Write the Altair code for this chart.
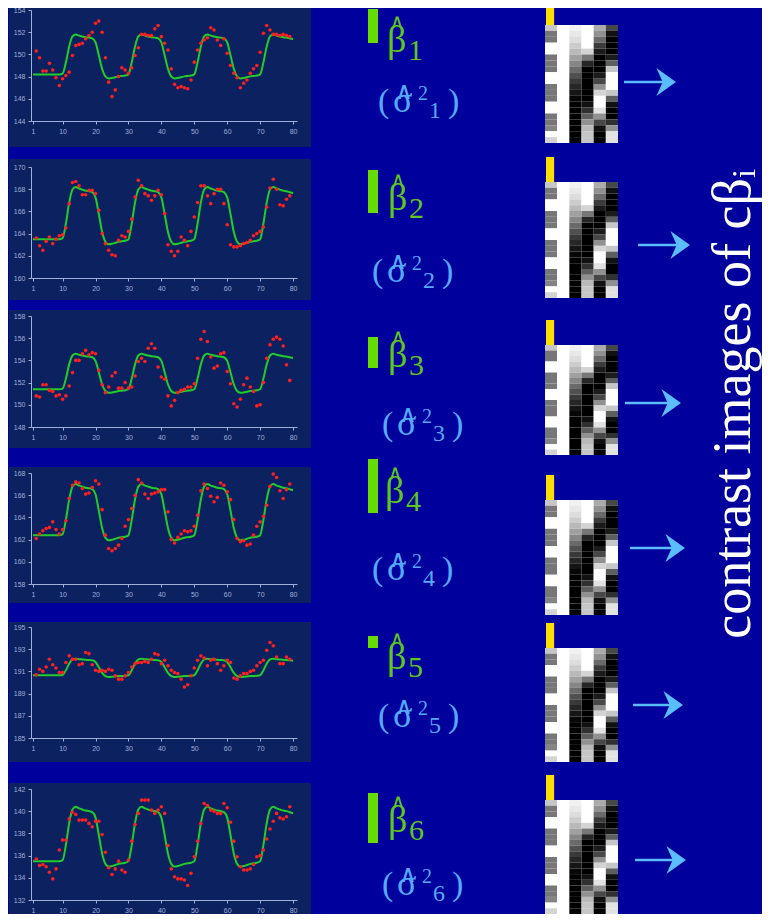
import altair as alt
import pandas as pd

# ---------------- data ----------------
SCANS = list(range(1, 81))
REGRESSOR = [0.0, 0.0, 0.0, 0.0, 0.0, 0.0, 0.0, 0.0, 0.0, 0.02,
             0.3, 0.7, 0.95, 1.0, 0.97, 0.95, 0.93, 0.92, 0.9, 0.8,
             0.48, 0.14, -0.05, -0.1, -0.09, -0.07, -0.05, -0.04, -0.03, 0.0,
             0.3, 0.7, 0.95, 1.0, 0.97, 0.95, 0.93, 0.92, 0.9, 0.8,
             0.48, 0.14, -0.05, -0.1, -0.09, -0.07, -0.05, -0.04, -0.03, 0.0,
             0.3, 0.7, 0.95, 1.0, 0.97, 0.95, 0.93, 0.92, 0.9, 0.8,
             0.48, 0.14, -0.05, -0.1, -0.09, -0.07, -0.05, -0.04, -0.03, 0.0,
             0.3, 0.7, 0.95, 1.0, 0.97, 0.95, 0.93, 0.92, 0.9, 0.88]

PANEL_BASE = [148.2, 163.5, 151.4, 162.4, 190.65, 135.5]
PANEL_AMP = [3.6, 4.7, 3.2, 4.6, 1.5, 4.9]
Y_DOMAINS = [(144, 154), (160, 170), (148, 158), (158, 168), (185, 195), (132, 142)]
X_TICKS = [1, 10, 20, 30, 40, 50, 60, 70, 80]

OBS_1 = [150.3, 149.7, 148.5, 148.5, 149.2, 148.6, 147.9, 147.2, 147.8, 148.1,
         148.4, 149.9, 150.8, 150.9, 151.0, 151.4, 151.7, 152.0, 152.8, 153.0,
         152.0, 149.7, 147.5, 146.2, 146.8, 148.0, 148.8, 148.6, 148.3, 148.8,
         149.9, 150.6, 151.8, 151.8, 151.7, 151.7, 152.3, 152.6, 151.6, 151.0,
         150.4, 148.7, 147.3, 147.0, 147.1, 147.0, 146.9, 147.7, 149.3, 150.4,
         151.0, 151.3, 151.5, 152.4, 152.2, 151.3, 150.8, 151.4, 150.1, 149.0,
         148.3, 147.9, 147.0, 147.4, 147.7, 148.3, 148.7, 149.0, 150.2, 151.9,
         152.6, 152.2, 151.8, 151.8, 151.7, 151.8, 151.7, 151.6]
OBS_2 = [163.6, 162.9, 162.5, 163.3, 163.7, 163.1, 163.5, 163.8, 163.9, 164.5,
         166.7, 168.6, 168.7, 168.3, 167.5, 167.5, 167.9, 167.9, 167.6, 166.1,
         164.0, 163.1, 162.5, 162.1, 162.0, 163.4, 163.8, 163.7, 164.2, 165.3,
         167.3, 168.8, 168.3, 167.6, 167.4, 167.0, 167.4, 167.9, 167.5, 165.8,
         163.0, 162.4, 162.0, 162.4, 163.7, 163.4, 162.9, 164.2, 165.5, 166.8,
         168.3, 168.3, 167.4, 166.7, 167.6, 168.0, 168.0, 166.7, 164.8, 163.0,
         162.8, 162.8, 162.9, 163.1, 163.2, 163.4, 163.8, 164.0, 164.2, 164.6,
         166.4, 168.1, 168.9, 168.0, 166.6, 166.5, 167.1, 167.4]
OBS_3 = [150.8, 150.7, 151.8, 151.8, 151.3, 151.2, 150.8, 150.9, 150.5, 150.8,
         151.7, 152.9, 154.0, 154.0, 154.6, 154.9, 154.5, 154.7, 154.6, 153.1,
         151.8, 151.1, 151.6, 152.6, 152.9, 151.5, 151.5, 152.0, 151.5, 151.6,
         152.6, 153.9, 154.2, 153.9, 155.1, 155.5, 155.1, 153.4, 152.5, 152.3,
         150.8, 149.9, 150.4, 151.1, 151.3, 151.4, 151.6, 151.6, 151.9, 154.2,
         155.9, 156.6, 155.7, 154.3, 153.3, 153.5, 154.6, 154.7, 153.0, 151.9,
         150.1, 149.8, 150.5, 151.8, 152.4, 151.6, 151.2, 149.9, 150.0, 152.0,
         154.2, 155.4, 155.9, 156.1, 155.9, 155.3, 153.6, 152.2]
OBS_4 = [162.1, 162.5, 162.8, 163.0, 163.1, 163.6, 162.9, 162.5, 162.9, 163.7,
         165.7, 166.9, 167.2, 167.1, 166.6, 166.1, 166.2, 166.7, 167.3, 167.0,
         164.7, 162.4, 161.2, 161.0, 161.2, 161.5, 162.1, 163.2, 163.8, 164.8,
         166.0, 167.4, 167.1, 166.1, 165.7, 166.1, 166.2, 166.3, 166.5, 166.5,
         164.5, 162.0, 161.7, 162.2, 162.5, 162.8, 162.7, 162.8, 163.2, 164.2,
         166.4, 167.0, 166.6, 165.9, 165.4, 165.8, 167.1, 166.9, 166.3, 165.6,
         163.8, 162.1, 161.8, 161.9, 161.5, 161.6, 162.4, 163.2, 163.6, 164.1,
         165.1, 166.8, 167.9, 167.6, 166.4, 165.7, 166.5, 167.0]
OBS_5 = [190.7, 191.2, 191.0, 191.4, 192.1, 191.6, 191.3, 190.9, 190.9, 191.8,
         192.4, 192.1, 192.1, 191.6, 191.7, 192.7, 192.6, 191.6, 191.1, 191.0,
         191.1, 191.0, 191.2, 191.1, 190.6, 190.3, 190.3, 190.6, 190.9, 191.4,
         191.7, 191.8, 191.8, 191.9, 191.8, 192.1, 192.6, 192.5, 191.7, 192.0,
         191.5, 191.1, 190.9, 190.8, 190.3, 189.6, 189.8, 190.6, 191.3, 192.0,
         192.4, 192.2, 191.5, 192.0, 192.1, 191.7, 191.1, 191.5, 192.0, 191.8,
         190.4, 190.3, 190.6, 190.8, 190.8, 191.0, 191.1, 191.5, 191.8, 192.0,
         192.9, 193.6, 193.3, 192.3, 191.7, 191.7, 192.3, 192.1]
OBS_6 = [135.7, 135.1, 135.2, 135.0, 134.5, 133.9, 134.8, 136.5, 137.4, 137.4,
         139.3, 139.9, 139.7, 139.2, 139.2, 139.2, 138.9, 138.6, 139.1, 139.1,
         137.9, 136.3, 134.9, 134.3, 134.8, 135.5, 134.7, 134.5, 135.6, 137.3,
         138.8, 139.8, 141.0, 141.0, 141.0, 140.1, 139.8, 140.1, 140.4, 139.8,
         136.9, 134.8, 134.1, 133.9, 133.9, 133.8, 133.3, 134.4, 135.9, 137.3,
         138.9, 140.7, 140.5, 140.1, 140.0, 139.8, 139.8, 140.7, 140.3, 139.0,
         137.3, 135.9, 135.0, 134.7, 134.7, 134.8, 135.2, 135.9, 136.0, 136.5,
         137.5, 138.4, 139.1, 139.8, 139.4, 139.3, 139.5, 140.4]
OBS = [OBS_1, OBS_2, OBS_3, OBS_4, OBS_5, OBS_6]

BETA_BAR = [3.4, 4.3, 3.1, 5.4, 1.2, 5.0]
SUBSCRIPTS = ["1", "2", "3", "4", "5", "6"]
CONTRAST = [1, 0, 0, 0, 0, 0]

DM_BOXCAR = [0.8, 0.5, 0.5, 1, 1, 0.5, 0.5, 0.5, 1, 1, 0.5, 0.5, 0.5, 1, 1, 0.5, 0.5, 0.55, 1, 0.85]
DM_CONST = [1, 1, 1, 1, 1, 1, 1, 1, 1, 1, 1, 1, 1, 1, 1, 1, 1, 1, 1, 1]
DM_DRIFT1 = [0.95, 0.92, 0.88, 0.82, 0.75, 0.66, 0.56, 0.45, 0.34, 0.24, 0.15, 0.07, 0.02, 0, 0, 0, 0, 0, 0, 0]
DM_DRIFT2 = [1, 1, 1, 1, 0.85, 0.5, 0.15, 0, 0, 0, 0, 0, 0, 0.05, 0.2, 0.4, 0.6, 0.75, 0.8, 0.8]
DM_DRIFT3 = [0.7, 0.6, 0.45, 0.25, 0.1, 0, 0, 0, 0.1, 0.3, 0.6, 0.85, 1, 1, 0.9, 0.6, 0.3, 0.05, 0, 0]
DM_DRIFT4 = [0.3, 0.05, 0, 0, 0, 0.1, 0.4, 0.8, 1, 1, 1, 0.8, 0.4, 0.05, 0, 0, 0.2, 0.6, 0.9, 0.9]
DESIGN = [DM_BOXCAR, DM_CONST, DM_DRIFT1, DM_DRIFT2, DM_DRIFT3, DM_DRIFT4]

SIDE_TITLE = "contrast images of cβᵢ"

# ---------------- layout / style (reference pixel positions) ----------------
PAGE = "#00009c"
PANEL = "#0c2160"
GREEN_BAR = "#66dd00"
GREEN_TXT = "#5cc81c"
SIG_BLUE = "#55aaff"
ARROW_BLUE = "#5bbcff"
AXIS_COL = "#9fb0d8"
SERIF = "Liberation Serif"

# the visible chart area is reference x 8..762, y 8..914 (page margin is 8px)
ROW_TOPS = [8, 155, 308, 458, 615, 772, 914]
COL_LEFT = [8, 320, 530, 700, 762]
FRAME = [(2, 147), (159, 300), (310, 448), (467, 603), (622, 762), (783, 920)]
PLOT_TOP = [10, 167, 316, 473, 627, 789]
PLOT_H = 111
BAR_BOTTOM = [43, 213, 368, 513, 648, 843]
BETA_POS = [(387, 52), (388, 210), (388, 367), (385, 503), (387, 669), (388, 832)]
SIG_POS = [(378, 112), (372, 282), (382, 435), (372, 580), (378, 727), (382, 895)]
MAT_TOP = [25, 182, 345, 500, 648, 800]
MAT_BOT = [143, 298, 455, 615, 762, 915]
ARROWS = [(624, 676, 82), (638, 690, 245), (625, 681, 403), (630, 685, 548), (633, 683, 705), (635, 686, 860)]
SIDE_X, SIDE_Y, SIDE_ROW = 750, 404, 2
ANCHOR = 30  # fixed top-left bound so the page origin is deterministic
CHEVRON = "M -0.4 -1 L 1 0 L -0.4 1 L 0.05 0 Z"

ONE = pd.DataFrame({"k": [0]})


def ts_panel(i):
    top = ROW_TOPS[i]
    rowh = ROW_TOPS[i + 1] - top
    width = COL_LEFT[1] - COL_LEFT[0]
    ft, fb = FRAME[i]
    ft_l = max(0, ft - top)
    fb_l = min(rowh, fb - top)
    pt_l = PLOT_TOP[i] - top
    pb_l = pt_l + PLOT_H
    lo, hi = Y_DOMAINS[i]
    xs = alt.Scale(domain=[0.4, 81.2], range=[23, 289], nice=False, zero=False)
    ys = alt.Scale(domain=[lo, hi], range=[pb_l, pt_l], nice=False, zero=False)
    common = dict(labelFontSize=7, labelColor=AXIS_COL, domainColor=AXIS_COL,
                  tickColor=AXIS_COL, tickSize=3, grid=False, title=None,
                  zindex=1, labelFont="Liberation Sans", format="d")
    xaxis = alt.Axis(values=X_TICKS, offset=-(rowh - pb_l), labelPadding=3, **common)
    yaxis = alt.Axis(values=list(range(lo, hi + 1, 2)), offset=-23, labelPadding=3, **common)

    fit_df = pd.DataFrame({"scan": SCANS,
                           "val": [PANEL_BASE[i] + PANEL_AMP[i] * r for r in REGRESSOR]})
    obs = OBS[i]
    obs_df = pd.DataFrame({"scan": list(range(2, 2 + len(obs))), "val": obs})

    frame = alt.Chart(ONE).mark_rect(color=PANEL).encode(
        x=alt.value(1), x2=alt.value(303), y=alt.value(ft_l), y2=alt.value(fb_l))
    line = alt.Chart(fit_df).mark_line(color="#22cc2a", strokeWidth=2, interpolate="monotone").encode(
        x=alt.X("scan:Q", scale=xs, axis=xaxis), y=alt.Y("val:Q", scale=ys, axis=yaxis))
    pts = alt.Chart(obs_df).mark_circle(color="#ff2020", size=13, opacity=1).encode(
        x=alt.X("scan:Q", scale=xs, axis=xaxis), y=alt.Y("val:Q", scale=ys, axis=yaxis))
    layers = [frame, line, pts]
    if i == 0:
        anchor = alt.Chart(ONE).mark_rect(color=PAGE).encode(
            x=alt.value(-ANCHOR), x2=alt.value(-ANCHOR + 1),
            y=alt.value(-ANCHOR), y2=alt.value(-ANCHOR + 1))
        layers = [anchor] + layers
    return alt.layer(*layers).properties(width=width, height=rowh)


def beta_panel(i):
    top = ROW_TOPS[i]
    left = COL_LEFT[1]
    rowh = ROW_TOPS[i + 1] - top
    width = COL_LEFT[2] - COL_LEFT[1]
    df = pd.DataFrame({"beta": [BETA_BAR[i]], "sub": [SUBSCRIPTS[i]]})
    bb = BAR_BOTTOM[i] - top
    bar = alt.Chart(df).mark_rect(color=GREEN_BAR).encode(
        x=alt.value(48), x2=alt.value(58),
        y=alt.Y("beta:Q", scale=alt.Scale(domain=[0, 10], range=[bb, bb - 100]), axis=None),
        y2=alt.value(bb))
    bx = BETA_POS[i][0] - left
    by = BETA_POS[i][1] - top
    beta = alt.Chart(df).mark_text(text="β", font=SERIF, fontSize=38, color=GREEN_TXT,
                                   align="left", baseline="alphabetic").encode(
        x=alt.value(bx), y=alt.value(by))
    bhat = alt.Chart(df).mark_text(text="∧", font="DejaVu Sans", fontSize=20, color=GREEN_TXT,
                                   align="center", baseline="alphabetic").encode(
        x=alt.value(bx + 10), y=alt.value(by - 24))
    bsub = alt.Chart(df).mark_text(font=SERIF, fontSize=30, color=GREEN_TXT,
                                   align="left", baseline="alphabetic").encode(
        text="sub:N", x=alt.value(bx + 21), y=alt.value(by + 8))
    sx = SIG_POS[i][0] - left
    sy = SIG_POS[i][1] - top
    sty = dict(font=SERIF, color=SIG_BLUE, align="left", baseline="alphabetic")
    lpar = alt.Chart(df).mark_text(text="(", fontSize=34, **sty).encode(x=alt.value(sx), y=alt.value(sy))
    sig = alt.Chart(df).mark_text(text="σ", fontSize=36, **sty).encode(x=alt.value(sx + 15), y=alt.value(sy))
    shat = alt.Chart(df).mark_text(text="∧", font="DejaVu Sans", fontSize=24, color=SIG_BLUE,
                                   align="center", baseline="alphabetic").encode(
        x=alt.value(sx + 26), y=alt.value(sy - 13))
    sup = alt.Chart(df).mark_text(text="2", fontSize=20, **sty).encode(x=alt.value(sx + 40), y=alt.value(sy - 12))
    ssub = alt.Chart(df).mark_text(fontSize=24, **sty).encode(
        text="sub:N", x=alt.value(sx + 51), y=alt.value(sy + 6))
    rpar = alt.Chart(df).mark_text(text=")", fontSize=34, **sty).encode(x=alt.value(sx + 70), y=alt.value(sy))
    return alt.layer(bar, beta, bhat, bsub, lpar, sig, shat, sup, ssub, rpar).properties(
        width=width, height=rowh)


def matrix_panel(i):
    top = ROW_TOPS[i]
    left = COL_LEFT[2]
    rowh = ROW_TOPS[i + 1] - top
    width = COL_LEFT[3] - COL_LEFT[2]
    mt = MAT_TOP[i] - top
    mb = min(rowh, MAT_BOT[i] - top)
    recs = []
    for c, col in enumerate(DESIGN):
        for r, v in enumerate(col):
            recs.append({"c0": c, "c1": c + 1, "r0": r, "r1": r + 1, "v": v})
    mdf = pd.DataFrame(recs)
    xs = alt.Scale(domain=[0, 6], range=[15, 88], nice=False, zero=False)
    base = alt.Chart(ONE).mark_rect(color="#ffffff").encode(
        x=alt.value(15), x2=alt.value(88), y=alt.value(mt), y2=alt.value(mb))
    mat = alt.Chart(mdf).mark_rect().encode(
        x=alt.X("c0:Q", scale=xs, axis=None), x2="c1:Q",
        y=alt.Y("r0:Q", scale=alt.Scale(domain=[0, 20], range=[mt, mb], nice=False, zero=False), axis=None),
        y2="r1:Q",
        color=alt.Color("v:Q", scale=alt.Scale(domain=[0, 1], range=["#000000", "#ffffff"]), legend=None))
    cdf = pd.DataFrame({"col": list(range(len(CONTRAST))), "w": CONTRAST})
    ytop = max(mt - 25, 0)
    yel = alt.Chart(cdf).transform_calculate(
        xa="datum.col + 0.08", xb="datum.col + 0.75", zero="0").mark_rect(
        color="#ffdd00").encode(
        x=alt.X("xa:Q", scale=xs, axis=None), x2="xb:Q",
        y=alt.Y("w:Q", scale=alt.Scale(domain=[0, 1], range=[mt, ytop], nice=False), axis=None),
        y2="zero:Q")
    a0, a1, ay = ARROWS[i]
    a0 -= left
    a1 -= left
    ay -= top
    shaft = alt.Chart(ONE).mark_rule(color=ARROW_BLUE, strokeWidth=2.5).encode(
        x=alt.value(a0), x2=alt.value(a1 - 8), y=alt.value(ay))
    head = alt.Chart(ONE).mark_point(shape=CHEVRON, filled=True, size=784, color=ARROW_BLUE,
                                     opacity=1, strokeWidth=0).encode(
        x=alt.value(a1 - 14), y=alt.value(ay))
    return alt.layer(base, mat, yel, shaft, head).resolve_scale(y="independent").properties(
        width=width, height=rowh)


def side_cell(i):
    top = ROW_TOPS[i]
    rowh = ROW_TOPS[i + 1] - top
    width = COL_LEFT[4] - COL_LEFT[3]
    if i == SIDE_ROW:
        tdf = pd.DataFrame({"t": [SIDE_TITLE]})
        return alt.Chart(tdf).mark_text(angle=270, font=SERIF, fontSize=54, color="#ffffff",
                                        align="center", baseline="alphabetic").encode(
            text="t:N", x=alt.value(SIDE_X - COL_LEFT[3]), y=alt.value(SIDE_Y - top)).properties(
            width=width, height=rowh)
    return alt.Chart(ONE).mark_text(text=" ").encode(
        x=alt.value(width / 2), y=alt.value(rowh / 2)).properties(width=width, height=rowh)


cells = []
for i in range(6):
    cells += [ts_panel(i), beta_panel(i), matrix_panel(i), side_cell(i)]

chart = alt.concat(*cells, columns=4, spacing=0, bounds="flush").configure_view(
    stroke=None).properties(background=PAGE,
                            padding={"left": -ANCHOR, "top": -ANCHOR, "right": 0, "bottom": 0})

chart.save("out.html", embed_options={"renderer": "svg", "actions": False})
